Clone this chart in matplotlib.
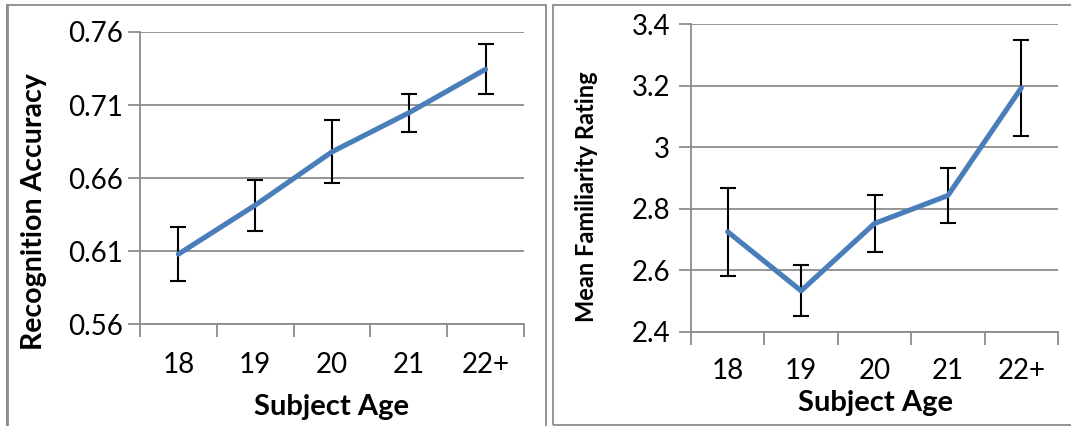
import matplotlib
matplotlib.use("Agg")
import matplotlib.pyplot as plt
from matplotlib.patches import Rectangle
from matplotlib.ticker import FixedLocator, NullFormatter

ages = ["18", "19", "20", "21", "22+"]
accuracy = [0.608, 0.6415, 0.678, 0.7047, 0.7345]
accuracy_err = [0.0185, 0.0175, 0.0215, 0.013, 0.017]
familiarity = [2.725, 2.533, 2.752, 2.843, 3.193]
familiarity_err = [0.143, 0.083, 0.092, 0.09, 0.155]

acc_ticks = [0.56, 0.61, 0.66, 0.71, 0.76]
acc_labels = ["0.56", "0.61", "0.66", "0.71", "0.76"]
fam_ticks = [2.4, 2.6, 2.8, 3.0, 3.2, 3.4]
fam_labels = ["2.4", "2.6", "2.8", "3", "3.2", "3.4"]

W, H = 1071, 426
FONT = "Lato"
LINE = "#4A7EBB"
GRID = "#8C8C8C"

fig = plt.figure(figsize=(W / 100, H / 100), dpi=100)


def fx(px):
    return px / W


def fy(py):
    return 1 - py / H


# panel borders
fig.patches.append(Rectangle((fx(7), fy(440)), fx(546 - 7), fy(5) - fy(440),
                             transform=fig.transFigure, fill=False,
                             edgecolor="#8C8C8C", linewidth=1.3))
fig.lines.append(plt.Line2D([fx(7), fx(7)], [fy(5), fy(430)], transform=fig.transFigure,
                            color="#8C8C8C", linewidth=2.0))
fig.patches.append(Rectangle((fx(553), fy(425)), fx(1100 - 553), fy(5) - fy(425),
                             transform=fig.transFigure, fill=False,
                             edgecolor="#8C8C8C", linewidth=1.3))


def make_axes(x0, x1, ytop, ybot):
    return fig.add_axes([fx(x0), fy(ybot), fx(x1 - x0), fy(ytop) - fy(ybot)])


def style(ax, vals, errs, ticks, labels, ylabel, ylabel_size, xlabel_xy, ylabel_xy, xtick_pad, ytick_pad):
    x = list(range(len(ages)))
    ax.errorbar(x, vals, yerr=errs, fmt="none", ecolor="black", elinewidth=1.5,
                capsize=6, capthick=1.5, zorder=3)
    ax.plot(x, vals, color=LINE, linewidth=3.7, solid_capstyle="round",
            solid_joinstyle="round", zorder=4)
    ax.set_xlim(-0.5, len(ages) - 0.5)
    ax.set_ylim(ticks[0], ticks[-1])
    ax.set_yticks(ticks)
    ax.set_yticklabels(labels, fontsize=20, fontfamily=FONT)
    ax.yaxis.grid(True, color=GRID, linewidth=1.3)
    ax.set_axisbelow(True)
    ax.xaxis.set_major_locator(FixedLocator([i - 0.5 for i in range(len(ages) + 1)]))
    ax.xaxis.set_major_formatter(NullFormatter())
    ax.xaxis.set_minor_locator(FixedLocator(x))
    ax.set_xticklabels(ages, minor=True, fontsize=20, fontfamily=FONT)
    ax.tick_params(axis="x", which="major", length=9, width=1.3, color=GRID, direction="out")
    ax.tick_params(axis="x", which="minor", length=0, pad=xtick_pad)
    ax.tick_params(axis="y", length=9, width=1.3, color=GRID, pad=ytick_pad)
    for s in ["top", "right"]:
        ax.spines[s].set_visible(False)
    for s in ["left", "bottom"]:
        ax.spines[s].set_color(GRID)
        ax.spines[s].set_linewidth(1.3)
    xl = ax.set_xlabel("Subject Age", fontsize=21, fontweight="bold", fontfamily=FONT)
    xl.set_verticalalignment("center")
    ax.xaxis.set_label_coords(fx(xlabel_xy[0]), fy(xlabel_xy[1]), transform=fig.transFigure)
    yl = ax.set_ylabel(ylabel, fontsize=ylabel_size, fontweight="bold", fontfamily=FONT)
    yl.set_verticalalignment("center")
    ax.yaxis.set_label_coords(fx(ylabel_xy[0]), fy(ylabel_xy[1]), transform=fig.transFigure)
    ax.patch.set_alpha(0)


ax1 = make_axes(140, 524, 32, 324.3)
style(ax1, accuracy, accuracy_err, acc_ticks, acc_labels, "Recognition Accuracy", 20.5,
      (332, 407), (34, 212), 20, 3)

ax2 = make_axes(691, 1058, 24.3, 331.7)
style(ax2, familiarity, familiarity_err, fam_ticks, fam_labels, "Mean Familiarity Rating", 17,
      (875, 403), (587, 197), 19, 6)

fig.savefig("out.png", dpi=100)
